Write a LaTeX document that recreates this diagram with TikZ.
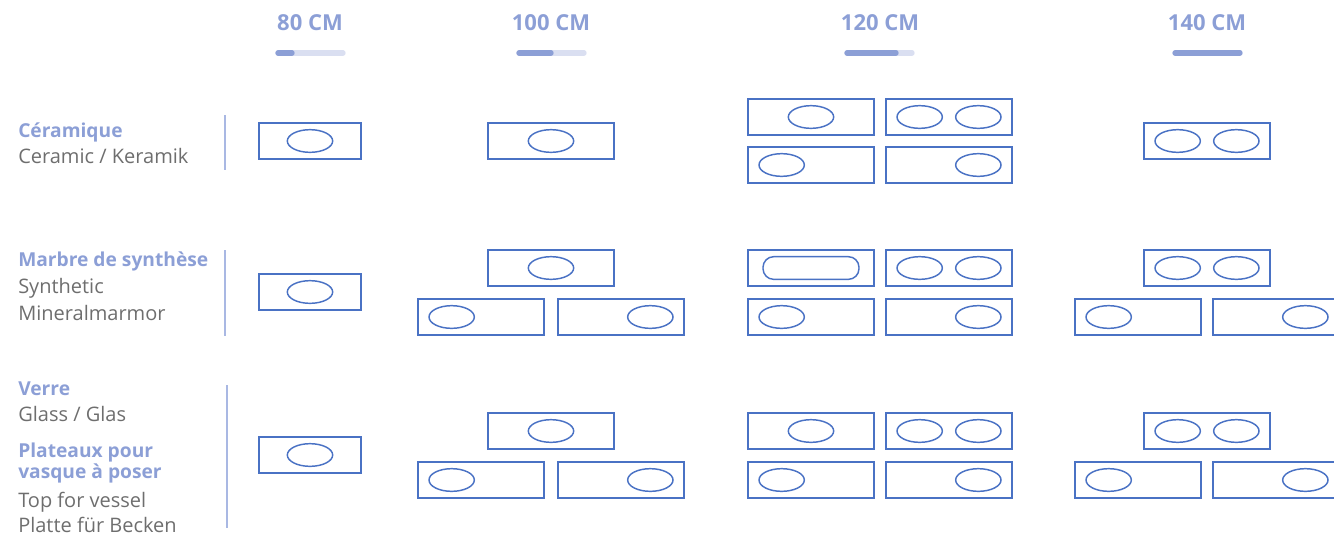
\documentclass[tikz,border=0pt]{standalone}
\usepackage{fontspec}
\setmainfont{Open Sans}
\usetikzlibrary{shapes.geometric}

\definecolor{boxblue}{HTML}{4A72C4}
\definecolor{lavender}{HTML}{8C9FD6}
\definecolor{barlight}{HTML}{DADFF1}
\definecolor{sepline}{HTML}{A9B8E3}
\definecolor{textgray}{HTML}{6E6E6E}

\begin{document}
\begin{tikzpicture}[x=0.75pt,y=-0.75pt,
				top box/.style = {draw=boxblue, line width=1.2pt, inner sep=0pt, minimum width=94.5pt, minimum height=27pt},
				short box/.style = {top box, minimum width=76.5pt},
				bowl/.style = {ellipse, draw=boxblue, line width=1.1pt, inner sep=0pt, minimum width=34pt, minimum height=17pt},
				bowl l/.style = {bowl, xshift=-22pt},
				bowl r/.style = {bowl, xshift=22pt},
				long bowl/.style = {draw=boxblue, line width=1.1pt, rounded corners=8pt, inner sep=0pt, minimum width=72pt, minimum height=17pt},
				head/.style = {text=lavender, font=\fontsize{16.5}{18}\selectfont\bfseries},
				mat/.style = {anchor=base west, inner sep=0pt, text=lavender, font=\fontsize{14.4}{16}\selectfont\bfseries},
				sub/.style = {anchor=base west, inner sep=0pt, text=textgray, font=\fontsize{15}{16}\selectfont},
				bar back/.style = {barlight, line width=4pt, line cap=round},
				bar front/.style = {lavender, line width=4pt, line cap=round},
				sep/.style = {sepline, line width=1.1pt}]
				
				\useasboundingbox (0,0) rectangle (1334,536);
				
				% sizes
				\node[head] (h80) at (310,23) {80 CM};
				\node[head] (h100) at (551,23) {100 CM};
				\node[head] (h120) at (880,23) {120 CM};
				\node[head] (h140) at (1207,23) {140 CM};
				
				\draw[bar back] (278,53) -- (343,53);
				\draw[bar front] (278,53) -- (292,53);
				\draw[bar back] (519,53) -- (584,53);
				\draw[bar front] (519,53) -- (551,53);
				\draw[bar back] (847,53) -- (912,53);
				\draw[bar front] (847,53) -- (896,53);
				\draw[bar front] (1175,53) -- (1240,53);
				
				% materials
				\node[mat] (cer) at (18,137) {Céramique};
				\node[sub] (cer2) at (18,163) {Ceramic / Keramik};
				\draw[sep] (225,115) -- (225,170);
				
				\node[mat] (mar) at (18,266) {Marbre de synthèse};
				\node[sub] (mar2) at (18,293) {Synthetic};
				\node[sub] (mar3) at (18,320) {Mineralmarmor};
				\draw[sep] (225,250) -- (225,336);
				
				\node[mat] (ver) at (18,395) {Verre};
				\node[sub] (ver2) at (18,421) {Glass / Glas};
				\node[mat] (pla) at (18,457) {Plateaux pour};
				\node[mat] (pla2) at (18,478) {vasque à poser};
				\node[sub] (pla3) at (18,507) {Top for vessel};
				\node[sub] (pla4) at (18,532) {Platte für Becken};
				\draw[sep] (227,385) -- (227,528);
				
				% ceramique
				\node[short box] (c1) at (310,141) {};
				\node[bowl] (c1e) at (c1.center) {};
				\node[top box] (c2) at (551,141) {};
				\node[bowl] (c2e) at (c2.center) {};
				\node[top box] (c3) at (811,117) {};
				\node[bowl] (c3e) at (c3.center) {};
				\node[top box] (c4) at (949,117) {};
				\node[bowl l] (c4e) at (c4.center) {};
				\node[bowl r] (c4f) at (c4.center) {};
				\node[top box] (c5) at (811,165) {};
				\node[bowl l] (c5e) at (c5.center) {};
				\node[top box] (c6) at (949,165) {};
				\node[bowl r] (c6e) at (c6.center) {};
				\node[top box] (c7) at (1207,141) {};
				\node[bowl l] (c7e) at (c7.center) {};
				\node[bowl r] (c7f) at (c7.center) {};
				
				% marbre
				\node[short box] (m1) at (310,292) {};
				\node[bowl] (m1e) at (m1.center) {};
				\node[top box] (m2) at (551,268) {};
				\node[bowl] (m2e) at (m2.center) {};
				\node[top box] (m3) at (481,317) {};
				\node[bowl l] (m3e) at (m3.center) {};
				\node[top box] (m4) at (621,317) {};
				\node[bowl r] (m4e) at (m4.center) {};
				\node[top box] (m5) at (811,268) {};
				\node[long bowl] (m5e) at (m5.center) {};
				\node[top box] (m6) at (949,268) {};
				\node[bowl l] (m6e) at (m6.center) {};
				\node[bowl r] (m6f) at (m6.center) {};
				\node[top box] (m7) at (811,317) {};
				\node[bowl l] (m7e) at (m7.center) {};
				\node[top box] (m8) at (949,317) {};
				\node[bowl r] (m8e) at (m8.center) {};
				\node[top box] (m9) at (1207,268) {};
				\node[bowl l] (m9e) at (m9.center) {};
				\node[bowl r] (m9f) at (m9.center) {};
				\node[top box] (m10) at (1138,317) {};
				\node[bowl l] (m10e) at (m10.center) {};
				\node[top box] (m11) at (1276,317) {};
				\node[bowl r] (m11e) at (m11.center) {};
				
				% verre
				\node[short box] (v1) at (310,455) {};
				\node[bowl] (v1e) at (v1.center) {};
				\node[top box] (v2) at (551,431) {};
				\node[bowl] (v2e) at (v2.center) {};
				\node[top box] (v3) at (481,480) {};
				\node[bowl l] (v3e) at (v3.center) {};
				\node[top box] (v4) at (621,480) {};
				\node[bowl r] (v4e) at (v4.center) {};
				\node[top box] (v5) at (811,431) {};
				\node[bowl] (v5e) at (v5.center) {};
				\node[top box] (v6) at (949,431) {};
				\node[bowl l] (v6e) at (v6.center) {};
				\node[bowl r] (v6f) at (v6.center) {};
				\node[top box] (v7) at (811,480) {};
				\node[bowl l] (v7e) at (v7.center) {};
				\node[top box] (v8) at (949,480) {};
				\node[bowl r] (v8e) at (v8.center) {};
				\node[top box] (v9) at (1207,431) {};
				\node[bowl l] (v9e) at (v9.center) {};
				\node[bowl r] (v9f) at (v9.center) {};
				\node[top box] (v10) at (1138,480) {};
				\node[bowl l] (v10e) at (v10.center) {};
				\node[top box] (v11) at (1276,480) {};
				\node[bowl r] (v11e) at (v11.center) {};
				
				\end{tikzpicture}
\end{document}
